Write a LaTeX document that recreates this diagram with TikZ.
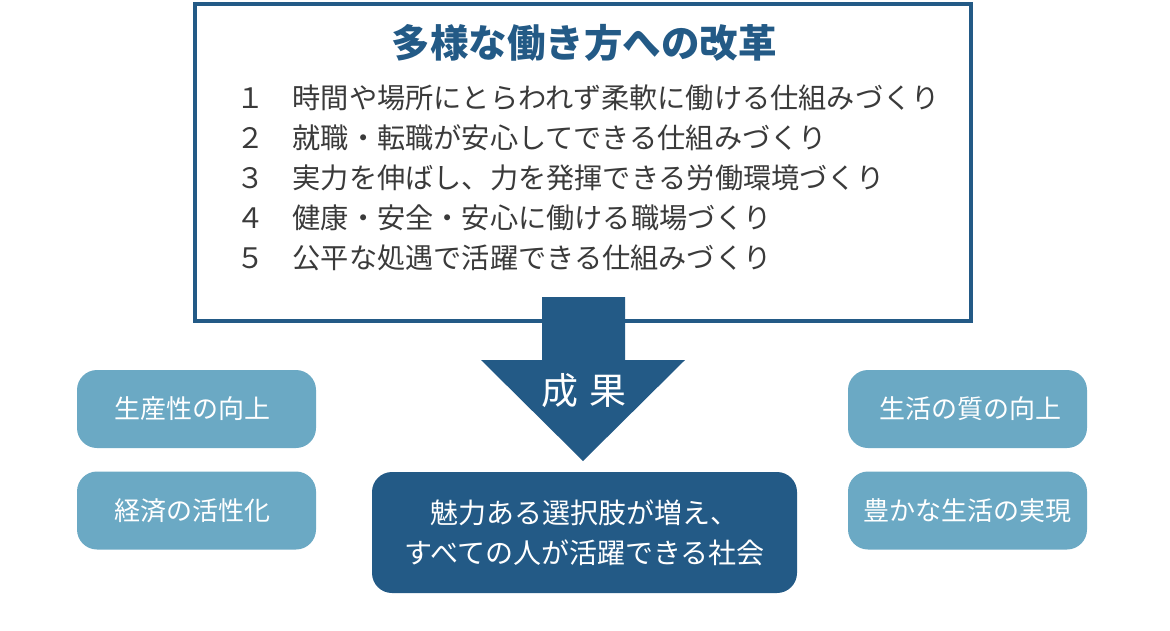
\documentclass[tikz,border=0pt]{standalone}
\usepackage{fontspec}
\newfontfamily\jpfont{Noto Sans CJK JP}
\definecolor{deepblue}{HTML}{235A86}
\definecolor{paleblue}{HTML}{6BA9C4}
\definecolor{listgray}{HTML}{3A3A3A}
\tikzset{
	goalbox/.style = {fill = paleblue, rounded corners = 20pt, minimum width = 239pt, minimum height = 78pt, text = white, font = \jpfont\fontsize{26}{30}\selectfont},
	listline/.style = {anchor = west, text = listgray, font = \jpfont\fontsize{28.2}{32}\selectfont, inner sep = 0pt}
}
\begin{document}
\begin{tikzpicture}[x = 1pt, y = -1pt]
	\useasboundingbox (0,0) rectangle (1170,630);
	\draw [deepblue, line width = 4pt] (195,3.5) rectangle (971,321);
	\node [text = deepblue, font = \jpfont\bfseries\fontsize{38.5}{44}\selectfont] (title) at (584,43) {多様な働き方への改革};
	\node [listline] (item1) at (236,98) {１　時間や場所にとらわれず柔軟に働ける仕組みづくり};
	\node [listline] (item2) at (236,138) {２　就職・転職が安心してできる仕組みづくり};
	\node [listline] (item3) at (236,178) {３　実力を伸ばし、力を発揮できる労働環境づくり};
	\node [listline] (item4) at (236,218) {４　健康・安全・安心に働ける職場づくり};
	\node [listline] (item5) at (236,258) {５　公平な処遇で活躍できる仕組みづくり};
	% big arrow
	\fill [deepblue] (542,297) -- (625,297) -- (625,360) -- (685,360) -- (583,461) -- (481,360) -- (542,360) -- cycle;
	\node [text = white, font = \jpfont\fontsize{37}{40}\selectfont] (result) at (584,391) {成\hspace{12pt}果};
	\node [goalbox] (prod) at (196.5,409) {\hspace{-8pt}生産性の向上};
	\node [goalbox] (econ) at (196.5,510.5) {\hspace{-8pt}経済の活性化};
	\node [goalbox] (life) at (967.5,409) {\hspace{5pt}生活の質の向上};
	\node [goalbox] (rich) at (967.5,510.5) {豊かな生活の実現};
	\node [fill = deepblue, rounded corners = 20pt, minimum width = 425pt, minimum height = 121pt, text = white, align = center, font = \jpfont\fontsize{28}{40}\selectfont] (society) at (584.5,532.5) {魅力ある選択肢が増え、\\すべての人が活躍できる社会};
\end{tikzpicture}
\end{document}
